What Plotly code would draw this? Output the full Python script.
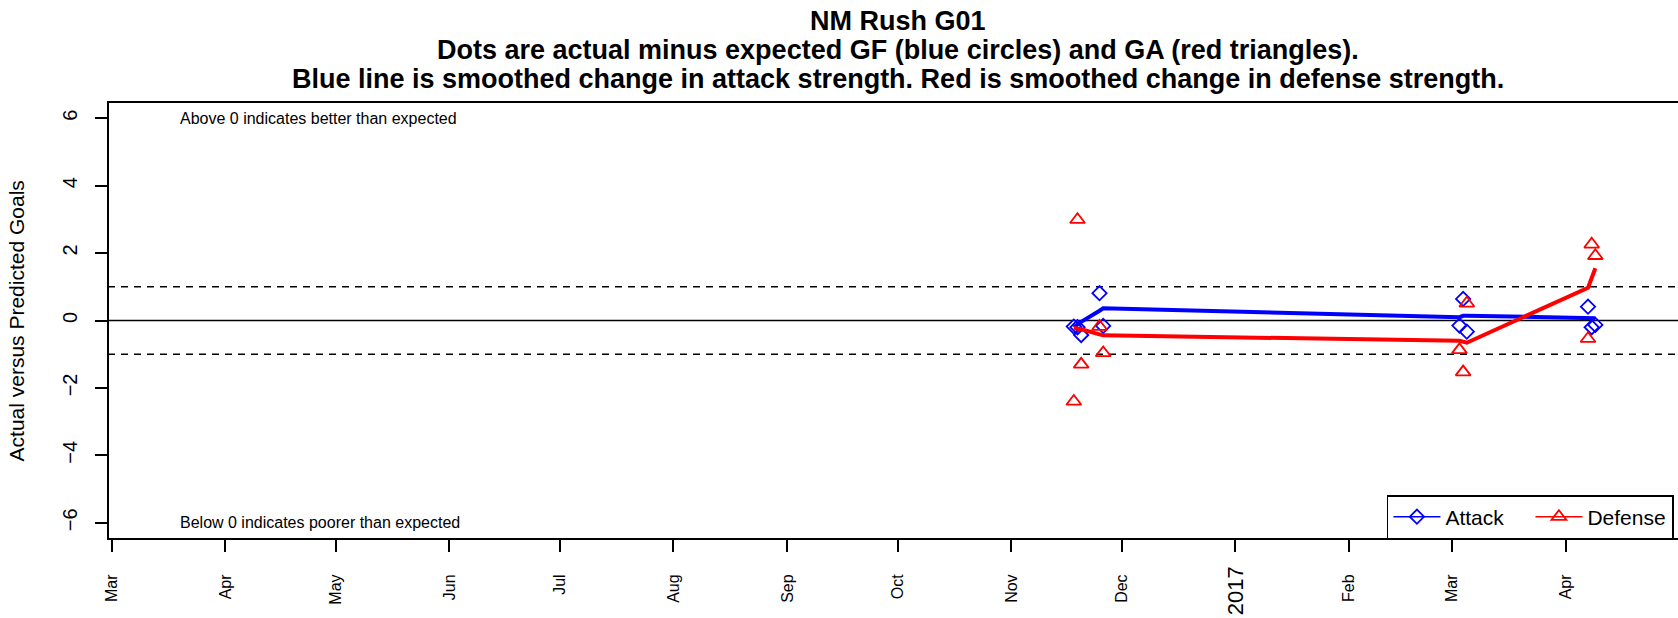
import plotly.graph_objects as go

# ---- data ----
game_dates = ["2016-11-18", "2016-11-19", "2016-11-20", "2016-11-25", "2016-11-26",
              "2017-03-03", "2017-03-04", "2017-03-05",
              "2017-04-07", "2017-04-08", "2017-04-09"]
attack_resid = [-0.18, -0.20, -0.43, 0.81, -0.16, -0.15, 0.64, -0.33, 0.41, -0.20, -0.13]
defense_resid = [-2.40, 2.99, -1.30, -0.18, -0.96, -0.87, -1.53, 0.51, -0.54, 2.26, 1.92]
attack_smooth = [-0.20, -0.12, -0.04, 0.29, 0.36, 0.10, 0.14, 0.14, 0.09, 0.08, 0.07]
defense_smooth = [-0.22, -0.23, -0.26, -0.41, -0.44, -0.60, -0.64, -0.66, 0.97, 1.25, 1.55]

month_ticks = ["2016-03-01", "2016-04-01", "2016-05-01", "2016-06-01", "2016-07-01",
               "2016-08-01", "2016-09-01", "2016-10-01", "2016-11-01", "2016-12-01",
               "2017-01-01", "2017-02-01", "2017-03-01", "2017-04-01"]
month_labels = ["Mar", "Apr", "May", "Jun", "Jul", "Aug", "Sep", "Oct", "Nov", "Dec",
                "", "Feb", "Mar", "Apr"]
year_tick = "2017-01-01"
year_label = "2017"
y_ticks = [-6, -4, -2, 0, 2, 4, 6]
x_range = ["2016-02-29 01:00", "2017-05-01 12:00"]
y_range = [-6.48, 6.48]

title_lines = ["NM Rush G01",
               "Dots are actual minus expected GF (blue circles) and GA (red triangles).",
               "Blue line is smoothed change in attack strength. Red is smoothed change in defense strength."]

BLUE = "#0000FF"
RED = "#FF0000"
FONT = "Liberation Sans, Arial, Helvetica, sans-serif"

fig = go.Figure()

fig.add_trace(go.Scatter(x=game_dates, y=attack_resid, mode="markers", showlegend=False,
                         marker=dict(symbol="diamond-open", size=11, color=BLUE,
                                     line=dict(width=1.8, color=BLUE))))
fig.add_trace(go.Scatter(x=game_dates, y=defense_resid, mode="markers", showlegend=False,
                         marker=dict(symbol="triangle-up-open", size=13, color=RED,
                                     line=dict(width=1.8, color=RED))))
fig.add_trace(go.Scatter(x=game_dates, y=attack_smooth, mode="lines", showlegend=False,
                         line=dict(color=BLUE, width=4)))
fig.add_trace(go.Scatter(x=game_dates, y=defense_smooth, mode="lines", showlegend=False,
                         line=dict(color=RED, width=4)))

# legend entries
fig.add_trace(go.Scatter(x=[None], y=[None], mode="lines+markers", name="Attack",
                         line=dict(color=BLUE, width=1.5),
                         marker=dict(symbol="diamond-open", size=11, color=BLUE,
                                     line=dict(width=1.8, color=BLUE))))
fig.add_trace(go.Scatter(x=[None], y=[None], mode="lines+markers", name="Defense",
                         line=dict(color=RED, width=1.5),
                         marker=dict(symbol="triangle-up-open", size=13, color=RED,
                                     line=dict(width=1.8, color=RED))))

shapes = [
    dict(type="line", xref="paper", x0=0, x1=1, yref="y", y0=0, y1=0,
         line=dict(color="black", width=1.6), layer="below"),
    dict(type="line", xref="paper", x0=0, x1=1, yref="y", y0=1, y1=1,
         line=dict(color="black", width=1.6, dash="7px,6px"), layer="below"),
    dict(type="line", xref="paper", x0=0, x1=1, yref="y", y0=-1, y1=-1,
         line=dict(color="black", width=1.6, dash="7px,6px"), layer="below"),
    dict(type="rect", xref="paper", x0=0, x1=1.02, yref="paper", y0=0, y1=1,
         line=dict(color="black", width=2)),
]

annotations = [
    dict(text="Above 0 indicates better than expected", x="2016-03-19", y=6,
         xref="x", yref="y", xanchor="left", yanchor="middle", showarrow=False,
         font=dict(size=16, color="black", family=FONT)),
    dict(text="Below 0 indicates poorer than expected", x="2016-03-19", y=-6,
         xref="x", yref="y", xanchor="left", yanchor="middle", showarrow=False,
         font=dict(size=16, color="black", family=FONT)),
    dict(text="Actual versus Predicted Goals", textangle=-90, x=-0.058, y=0.5,
         xref="paper", yref="paper", xanchor="center", yanchor="middle", showarrow=False,
         font=dict(size=21, color="black", family=FONT)),
    dict(text=year_label, textangle=-90, x=year_tick, y=-0.058,
         xref="x", yref="paper", xanchor="center", yanchor="top", showarrow=False,
         font=dict(size=22, color="black", family=FONT)),
]
for txt, yy in zip(title_lines, [1.186, 1.118, 1.0515]):
    annotations.append(dict(text="<b>" + txt + "</b>", x=0.503, y=yy, xref="paper", yref="paper",
                            xanchor="center", yanchor="middle", showarrow=False,
                            font=dict(size=27, color="black", family=FONT)))

fig.update_layout(
    width=1678, height=618,
    margin=dict(l=108, r=0, t=102, b=79, autoexpand=False),
    paper_bgcolor="white", plot_bgcolor="white",
    font=dict(family=FONT, color="black"),
    shapes=shapes, annotations=annotations,
    legend=dict(orientation="h", x=0.8146, xanchor="left", y=0, yanchor="bottom",
                bgcolor="white", bordercolor="black", borderwidth=1.5,
                font=dict(size=21, color="black", family=FONT), itemwidth=47,
                entrywidth=80),
    xaxis=dict(type="date", range=x_range, tickmode="array", tickvals=month_ticks,
               ticktext=month_labels, tickangle=-90, ticks="outside", ticklen=12,
               tickwidth=1.5, tickcolor="black", showgrid=False, zeroline=False,
               showline=False, tickfont=dict(size=16, color="black", family=FONT),
               ticklabelstandoff=16),
    yaxis=dict(range=y_range, tickmode="array", tickvals=y_ticks, tickangle=-90,
               ticks="outside", ticklen=12, tickwidth=1.5, tickcolor="black",
               showgrid=False, zeroline=False, showline=False,
               tickfont=dict(size=20, color="black", family=FONT),
               ticklabelstandoff=10),
)

fig.write_html("out.html", config={"displayModeBar": False},
               post_script="document.body.style.margin='0px';document.body.style.overflow='hidden';")
